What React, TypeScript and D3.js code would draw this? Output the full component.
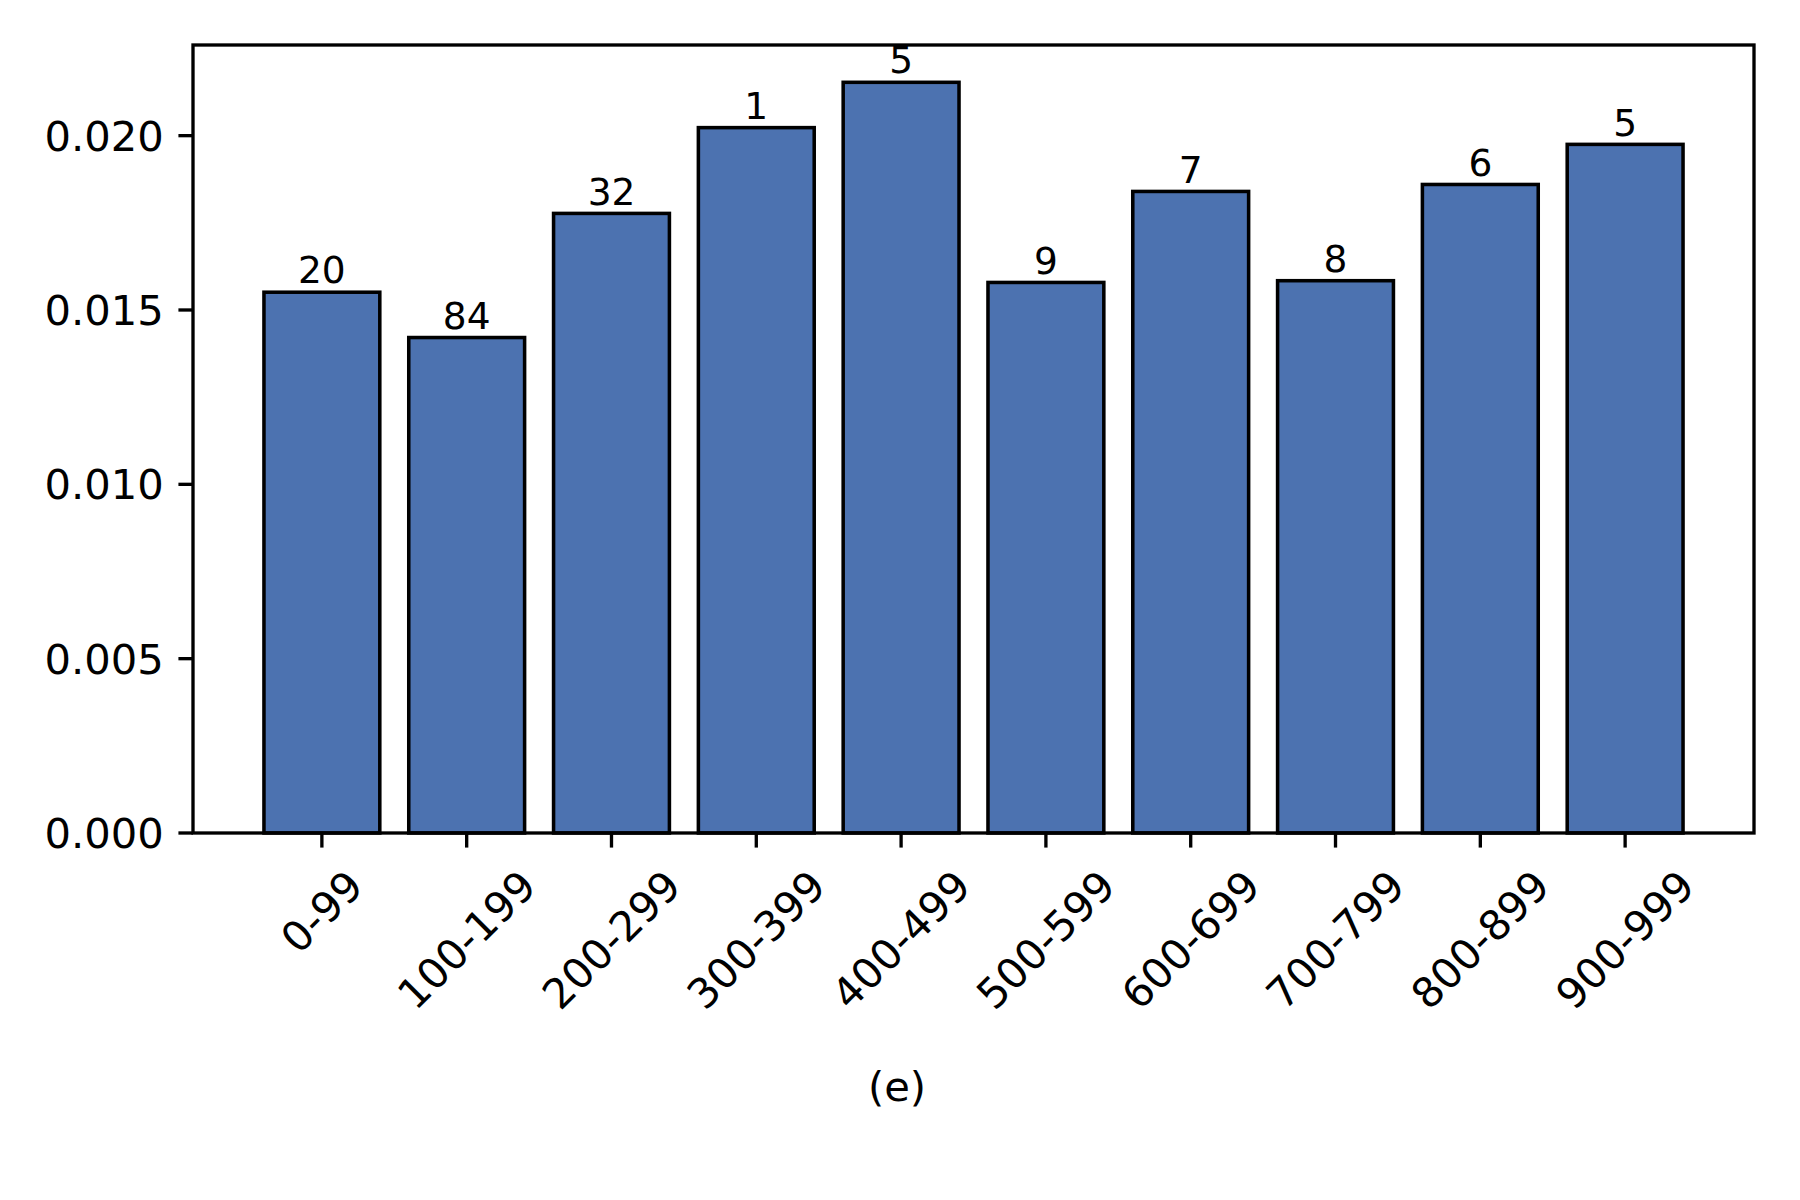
import React, { useEffect, useRef } from "react";
import * as d3 from "d3";

// bins and the normalised value of each bin
const categories = ["0-99", "100-199", "200-299", "300-399", "400-499", "500-599", "600-699", "700-799", "800-899", "900-999"];
const values = [0.01551, 0.01421, 0.01777, 0.02023, 0.02153, 0.01579, 0.0184, 0.01584, 0.0186, 0.01975];
const barLabels = ["20", "84", "32", "1", "5", "9", "7", "8", "6", "5"];
const yTicks = [0, 0.005, 0.01, 0.015, 0.02];
const caption = "(e)";

const W = 1800, H = 1200;
const margin = { top: 45, right: 46, bottom: 367, left: 193 };
const FONT = "DejaVu Sans";
const PT = 300 / 72;

const App = () => {
  const ref = useRef<SVGSVGElement>(null);

  useEffect(() => {
    const svg = d3.select(ref.current);
    svg.selectAll("*").remove();

    const width = W - margin.left - margin.right;
    const height = H - margin.top - margin.bottom;

    // matplotlib style: bar width 0.8, 5% margins
    const x = d3.scaleLinear().domain([-0.89, categories.length - 1 + 0.89]).range([0, width]);
    const y = d3.scaleLinear().domain([0, 0.0226]).range([height, 0]);
    const bw = x(0.8) - x(0);

    const g = svg.append("g").attr("transform", "translate(" + margin.left + "," + margin.top + ")");

    // bars
    g.append("g")
      .selectAll("rect")
      .data(values)
      .enter()
      .append("rect")
      .attr("x", (d, i) => x(i) - bw / 2)
      .attr("y", d => y(d))
      .attr("width", bw)
      .attr("height", d => y(0) - y(d))
      .attr("fill", "#4c72b0")
      .attr("stroke", "#000")
      .attr("stroke-width", 0.85 * PT);

    // count labels on top of bars
    g.append("g")
      .selectAll("text")
      .data(values)
      .enter()
      .append("text")
      .attr("x", (d, i) => x(i))
      .attr("y", d => y(d) - 0.236 * 9 * PT)
      .attr("text-anchor", "middle")
      .style("font-family", FONT)
      .style("font-size", 9 * PT + "px")
      .text((d, i) => barLabels[i]);

    // frame
    g.append("rect")
      .attr("width", width)
      .attr("height", height)
      .attr("fill", "none")
      .attr("stroke", "#000")
      .attr("stroke-width", 0.8 * PT);

    const tickLen = 3.5 * PT, pad = 3.5 * PT, fs = 10 * PT;

    // y axis
    const yAxis = g.append("g");
    yTicks.forEach(t => {
      yAxis.append("line")
        .attr("x1", 0).attr("x2", -tickLen)
        .attr("y1", y(t)).attr("y2", y(t))
        .attr("stroke", "#000").attr("stroke-width", 0.8 * PT);
      yAxis.append("text")
        .attr("x", -tickLen - pad)
        .attr("y", y(t))
        .attr("dy", "0.36em")
        .attr("text-anchor", "end")
        .style("font-family", FONT)
        .style("font-size", fs + "px")
        .text(d3.format(".3f")(t));
    });

    // x axis, rotated labels centred under the tick
    const xAxis = g.append("g").attr("transform", "translate(0," + height + ")");
    categories.forEach((c, i) => {
      xAxis.append("line")
        .attr("x1", x(i)).attr("x2", x(i))
        .attr("y1", 0).attr("y2", tickLen)
        .attr("stroke", "#000").attr("stroke-width", 0.8 * PT);
      const t = xAxis.append("text")
        .attr("text-anchor", "middle")
        .attr("dominant-baseline", "central")
        .style("font-family", FONT)
        .style("font-size", fs + "px")
        .text(c);
      const w = (t.node() as SVGTextElement).getComputedTextLength();
      const h = 1.1 * fs;
      const half = (w + h) / (2 * Math.SQRT2);
      const cy = tickLen + pad + half;
      t.attr("transform", "translate(" + x(i) + "," + cy + ") rotate(-45)");
    });

    // caption centred on the figure
    svg.append("text")
      .attr("x", W / 2 - 3)
      .attr("y", 1101)
      .attr("text-anchor", "middle")
      .style("font-family", FONT)
      .style("font-size", fs + "px")
      .text(caption);
  }, []);

  return (
    <svg
      ref={ref}
      width={W}
      height={H}
      style={{ position: "absolute", left: 0, top: 0, background: "#fff" }}
    />
  );
};

export default App;
